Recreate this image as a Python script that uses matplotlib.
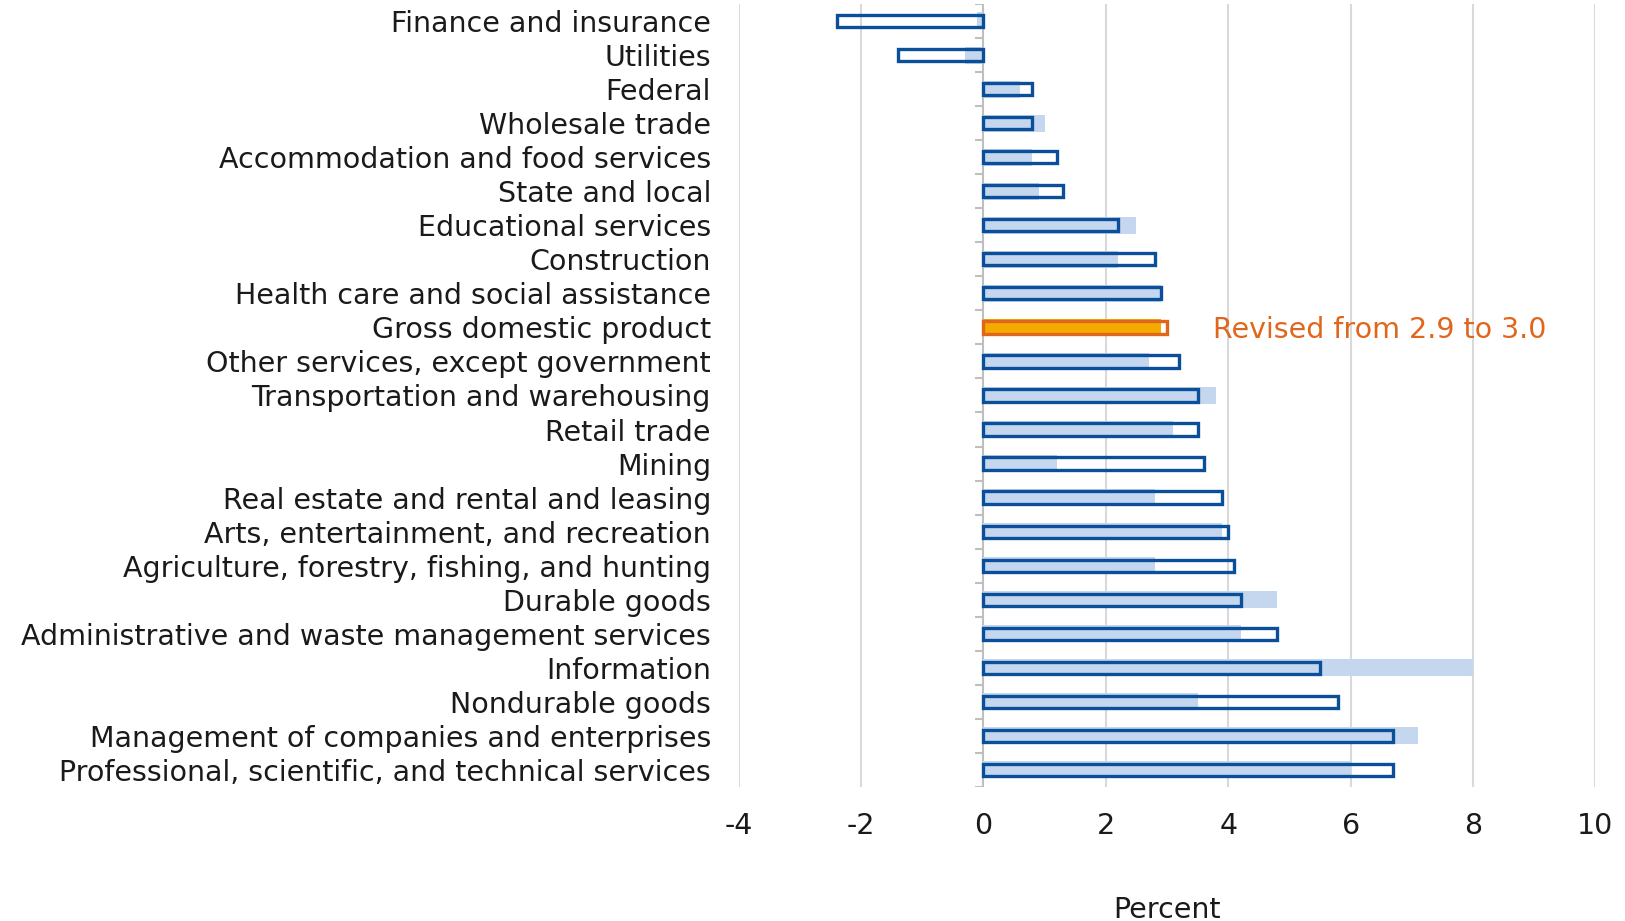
import matplotlib.pyplot as plt

plt.rcParams['font.family'] = ['DejaVu Sans']

# Industry growth, previous vs revised estimate (percent)
industries = [
    "Finance and insurance", "Utilities", "Federal", "Wholesale trade",
    "Accommodation and food services", "State and local", "Educational services",
    "Construction", "Health care and social assistance", "Gross domestic product",
    "Other services, except government", "Transportation and warehousing",
    "Retail trade", "Mining", "Real estate and rental and leasing",
    "Arts, entertainment, and recreation",
    "Agriculture, forestry, fishing, and hunting", "Durable goods",
    "Administrative and waste management services", "Information",
    "Nondurable goods", "Management of companies and enterprises",
    "Professional, scientific, and technical services",
]
previous = [-0.1, -0.3, 0.6, 1.0, 0.8, 0.9, 2.5, 2.2, 2.9, 2.9, 2.7, 3.8,
            3.1, 1.2, 2.8, 3.9, 2.8, 4.8, 4.2, 8.0, 3.5, 7.1, 6.0]
revised = [-2.4, -1.4, 0.8, 0.8, 1.2, 1.3, 2.2, 2.8, 2.9, 3.0, 3.2, 3.5,
           3.5, 3.6, 3.9, 4.0, 4.1, 4.2, 4.8, 5.5, 5.8, 6.7, 6.7]
highlight = "Gross domestic product"
xticks = [-4, -2, 0, 2, 4, 6, 8, 10]

dark_blue = "#0B4F9A"
light_blue = "#C4D7EE"
orange_fill = "#F4AA00"
orange_line = "#E0661C"
grid_gray = "#D9D9D9"
text_color = "#1A1A1A"
fs = 20.5

fig = plt.figure(figsize=(16.25, 9.21), dpi=100)
ax = fig.add_axes([0.4546, 0.1455, 0.5272, 0.8502])

ypos = list(range(len(industries)))
prev_colors = [orange_fill if n == highlight else light_blue for n in industries]
rev_colors = [orange_line if n == highlight else dark_blue for n in industries]

ax.barh(ypos, previous, height=0.5, color=prev_colors, zorder=2)
ax.barh(ypos, revised, height=0.36, facecolor="none", edgecolor=rev_colors,
        linewidth=2.4, zorder=3)

# zero axis with small ticks between categories
ax.axvline(0, color="#BFBFBF", lw=1.5, zorder=1)
bounds = [y - 0.5 for y in ypos] + [ypos[-1] + 0.5]
ax.hlines(bounds, -0.14, 0, color="#BFBFBF", lw=1.5, zorder=1)

gi = industries.index(highlight)
ax.text(3.75, gi, f"Revised from {previous[gi]:.1f} to {revised[gi]:.1f}",
        color=orange_line, fontsize=fs, va="center_baseline", ha="left", zorder=4)

ax.set_xlim(-4, 10)
ax.set_ylim(len(industries) - 0.5, -0.5)
ax.set_xticks(xticks)
ax.set_xticklabels([str(t) for t in xticks])
ax.set_yticks(ypos)
ax.set_yticklabels(industries)
for t in xticks:
    if t != 0:
        ax.axvline(t, color=grid_gray, lw=1.5, zorder=0)

ax.tick_params(axis="y", length=0, pad=20, labelsize=fs, labelcolor=text_color)
ax.tick_params(axis="x", length=0, pad=18, labelsize=fs, labelcolor=text_color)
for s in ax.spines.values():
    s.set_visible(False)

ax.set_xlabel("Percent", fontsize=fs, color=text_color, labelpad=40)

fig.savefig("out.png", dpi=100)
